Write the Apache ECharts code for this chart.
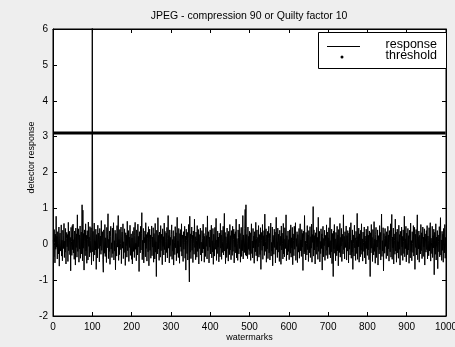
<!DOCTYPE html>
<html>
<head>
<meta charset="utf-8">
<script src="https://cdn.jsdelivr.net/npm/echarts@6/dist/echarts.min.js"></script>
<style>html,body{margin:0;padding:0;background:#eeeeee;}#c{width:455px;height:347px;}</style>
</head>
<body>
<div id="c"></div>
<script>
var titleText = 'JPEG - compression 90 or Quilty factor 10';
var xName = 'watermarks';
var yName = 'detector response';
var seriesNames = ['response', 'threshold'];
var xTicks = [0, 100, 200, 300, 400, 500, 600, 700, 800, 900, 1000];
var yTicks = [-2, -1, 0, 1, 2, 3, 4, 5, 6];
var thresholdValue = 3.1;
var response = [
0.12,-0.35,0.41,0.05,-0.52,0.28,-0.14,0.78,-0.08,0.22,-0.41,0.35,0.02,-0.27,0.48,-0.61,0.17,0.31,-0.19,0.06,0.54,-0.33,0.11,-0.46,0.39,0.24,-0.12,0.58,-0.37,0.09,-0.22,0.44,-0.55,0.16,0.33,-0.07,0.27,-0.48,0.61,-0.18,0.04,0.36,-0.29,0.19,-0.74,0.47,0.08,-0.31,0.52,-0.15,
0.56,-0.24,0.13,-0.42,0.37,0.21,-0.58,0.45,-0.09,0.29,-0.36,0.82,-0.2,0.1,0.43,-0.5,0.26,-0.13,0.51,-0.39,0.18,0.34,-0.27,1.1,-0.46,0.95,-0.11,0.3,-0.72,0.4,0.07,-0.32,0.57,-0.19,0.25,-0.53,0.38,0.14,-0.44,0.62,-0.06,0.2,-0.35,0.49,-0.23,0.11,0.46,-0.57,0.32,6.2,
-0.21,0.36,-0.47,0.15,0.59,-0.3,0.08,-0.16,0.42,-0.7,0.27,0.03,-0.38,0.53,-0.12,0.31,0.19,-0.49,0.44,-0.05,0.23,-0.28,0.66,-0.17,0.09,0.35,-0.43,-0.78,0.4,0.12,-0.25,0.55,-0.34,0.18,0.06,-0.51,0.47,-0.1,0.28,0.85,-0.4,0.14,-0.2,0.37,-0.56,0.22,0.5,-0.13,0.04,-0.37,
0.45,-0.26,0.17,0.6,-0.44,0.1,-0.19,0.39,-0.71,0.3,0.05,-0.33,0.52,-0.08,0.26,0.8,-0.45,0.13,-0.29,0.41,-0.15,0.02,0.48,-0.54,0.21,0.34,-0.11,0.57,-0.4,0.07,-0.23,0.43,0.16,-0.59,0.32,-0.04,0.25,-0.36,0.64,-0.18,0.1,0.38,-0.48,0.2,-0.09,0.53,-0.31,0.15,0.29,-0.42,
0.18,-0.55,0.36,0.09,-0.2,0.47,-0.37,0.24,0.61,-0.14,0.03,-0.46,0.4,0.13,-0.3,0.56,-0.07,0.22,-0.76,0.35,0.08,-0.24,0.5,-0.16,0.29,0.88,-0.43,0.11,-0.28,0.44,-0.52,0.19,0.04,0.37,-0.35,0.6,-0.12,0.27,-0.47,0.15,0.33,-0.21,0.49,-0.6,0.06,0.42,-0.17,0.26,-0.39,0.14,
0.51,-0.32,0.2,-0.08,0.46,-0.5,0.3,0.12,-0.41,0.58,-0.22,0.07,-0.9,0.39,0.17,-0.27,0.74,-0.13,0.25,-0.45,0.34,0.02,-0.36,0.52,-0.18,0.28,0.1,-0.57,0.43,-0.06,0.21,-0.3,0.59,-0.15,0.36,-0.49,0.08,0.31,-0.23,0.47,-0.38,0.16,0.8,-0.11,0.24,-0.52,0.4,-0.03,0.19,-0.34,
0.27,0.54,-0.42,0.13,-0.19,0.38,-0.58,0.22,0.06,-0.29,0.49,-0.1,0.32,-0.46,0.18,0.75,-0.25,0.09,-0.37,0.44,0.15,-0.53,0.3,-0.07,0.41,-0.2,0.57,-0.33,0.12,0.26,-0.48,0.35,-0.14,0.05,0.5,-0.39,0.23,-0.72,0.42,0.1,-0.26,0.33,-0.44,0.17,0.55,-0.31,-1.05,0.78,-0.22,0.29,
-0.4,0.14,0.48,-0.17,0.25,-0.51,0.37,0.03,-0.28,0.7,-0.09,0.21,-0.43,0.34,0.11,-0.36,0.52,-0.2,0.08,0.41,-0.55,0.27,-0.12,0.19,0.45,-0.3,0.06,-0.47,0.38,0.16,-0.24,0.56,-0.13,0.3,-0.5,0.22,0.09,-0.34,0.47,-0.06,0.24,-0.41,0.79,-0.18,0.13,0.35,-0.52,0.2,-0.08,0.4,
-0.27,0.15,0.53,-0.38,0.1,-0.21,0.44,-0.56,0.28,0.05,-0.33,0.47,-0.14,0.23,0.72,-0.45,0.12,-0.26,0.37,-0.08,0.2,-0.49,0.31,0.17,-0.35,0.58,-0.11,0.26,-0.42,0.39,0.07,-0.23,0.5,-0.3,0.14,0.86,-0.19,0.33,-0.54,0.21,0.04,-0.37,0.45,-0.12,0.28,-0.47,0.36,0.1,-0.29,0.55,
-0.16,0.24,-0.43,0.38,0.09,-0.31,0.5,-0.2,0.13,0.42,-0.52,0.29,-0.07,0.35,-0.24,0.7,-0.38,0.16,0.03,-0.45,0.4,0.19,-0.27,0.56,-0.12,0.3,-0.5,0.22,0.47,-0.34,0.11,-0.18,0.8,-0.41,0.26,0.05,-0.23,0.43,0.97,-0.3,1.1,-0.33,0.27,0.08,-0.4,0.48,-0.14,0.22,-0.29,0.36,
-0.18,0.32,-0.45,0.12,0.57,-0.26,0.09,-0.38,0.44,-0.1,0.23,-0.53,0.35,0.06,-0.21,0.61,-0.32,0.16,0.4,-0.47,0.19,-0.07,0.52,-0.36,0.27,0.02,-0.29,0.46,-0.7,0.33,0.11,-0.17,0.55,-0.42,0.24,-0.05,0.38,-0.31,0.84,-0.2,0.08,0.43,-0.5,0.26,-0.13,0.36,-0.4,0.15,0.5,-0.24,
0.3,-0.44,0.17,0.59,-0.33,0.05,-0.19,0.48,-0.6,0.25,0.12,-0.28,0.42,-0.09,0.34,-0.52,0.2,0.75,-0.15,0.07,-0.37,0.45,-0.22,0.28,0.1,-0.48,0.39,-0.04,0.22,-0.56,0.51,-0.16,0.31,0.03,-0.41,0.58,-0.27,0.14,-0.35,0.46,0.19,-0.12,0.82,-0.46,0.24,0.06,-0.3,0.37,-0.2,0.13,
-0.43,0.4,0.08,-0.25,0.54,-0.36,0.18,-0.1,0.47,-0.57,0.29,0.1,-0.32,0.5,-0.14,0.23,0.6,-0.45,0.16,-0.06,0.35,-0.51,0.27,0.04,-0.22,0.44,-0.39,0.2,0.57,-0.18,0.12,-0.34,0.41,-0.08,0.3,-0.73,0.37,0.15,-0.27,0.8,-0.21,0.09,-0.44,0.33,0.02,-0.3,0.52,-0.15,0.26,-0.48,
0.38,0.14,-0.24,0.49,-0.37,0.21,-0.11,0.56,-0.5,0.27,0.05,1.05,-0.33,0.4,-0.16,0.24,-0.55,0.32,0.11,-0.28,0.47,-0.07,0.19,-0.42,0.75,-0.2,0.13,0.36,-0.49,0.08,-0.26,0.43,-0.12,0.29,-0.72,0.22,0.5,-0.35,0.16,-0.04,0.39,-0.45,0.25,0.07,-0.31,0.54,-0.17,0.34,-0.4,0.18,
-0.08,0.46,-0.29,0.2,0.74,-0.38,0.1,-0.21,0.42,-0.54,0.3,0.04,-0.9,0.37,-0.13,0.55,-0.25,0.15,-0.46,0.33,0.09,-0.32,0.5,-0.18,0.26,-0.6,0.41,0.12,-0.23,0.58,-0.36,0.19,-0.05,0.44,-0.48,0.28,0.06,-0.27,0.82,-0.15,0.22,-0.41,0.35,-0.09,0.17,0.51,-0.44,0.24,-0.19,0.38,
0.07,-0.52,0.31,-0.14,0.47,-0.3,0.2,0.6,-0.39,0.11,-0.22,0.4,-0.7,0.26,0.02,-0.33,0.53,-0.1,0.18,-0.45,0.36,0.13,-0.26,0.86,-0.42,0.21,-0.07,0.45,-0.5,0.29,0.08,-0.35,0.39,-0.17,0.57,-0.28,0.15,-0.47,0.34,0.05,-0.2,0.48,-0.38,0.23,0.1,-0.55,0.42,-0.12,0.27,-0.31,
0.5,-0.16,0.25,-0.43,0.37,0.09,-0.9,0.32,-0.24,0.55,-0.11,0.19,-0.48,0.41,0.06,-0.3,0.63,-0.2,0.14,-0.53,0.28,0.47,-0.37,0.12,-0.08,0.4,-0.58,0.24,0.03,-0.27,0.52,-0.15,0.33,-0.44,0.21,0.84,-0.34,0.1,-0.19,0.46,-0.74,0.3,0.16,-0.25,0.44,-0.06,0.23,-0.4,0.35,0.09,
-0.32,0.5,-0.13,0.26,-0.47,0.38,0.04,-0.21,0.57,-0.36,0.17,0.83,-0.42,0.2,-0.1,0.45,-0.55,0.29,0.11,-0.28,0.7,-0.19,0.34,-0.5,0.13,0.42,-0.24,0.07,-0.39,0.53,-0.14,0.27,-0.58,0.36,0.19,-0.31,0.48,-0.07,0.22,-0.45,0.4,0.08,-0.26,0.78,-0.35,0.15,-0.12,0.5,-0.49,0.31,
0.05,-0.29,0.44,-0.16,0.24,-0.53,0.39,0.13,-0.38,0.59,-0.2,0.1,-0.46,0.35,0.02,-0.23,0.52,-0.33,0.18,0.47,-0.7,0.28,-0.09,0.41,-0.3,0.16,0.82,-0.43,0.21,-0.13,0.37,-0.5,0.25,0.06,-0.27,0.55,-0.18,0.32,-0.4,0.12,0.48,-0.34,0.2,-0.07,0.43,-0.58,0.29,0.09,-0.22,0.38,
-0.15,0.52,-0.41,0.23,0.11,-0.32,0.46,-0.19,0.3,0.6,-0.47,0.17,0.04,-0.26,0.5,-0.37,0.24,-0.1,0.42,-0.85,0.33,0.14,-0.28,0.57,-0.44,0.2,-0.06,0.38,-0.68,0.26,0.08,-0.21,0.49,-0.35,0.15,0.74,-0.3,0.12,-0.45,0.36,-0.17,0.28,-0.5,0.44,0.03,-0.24,0.55,-0.39,0.19,-0.11
];

var respData = response.map(function (v, i) { return [i + 1, v]; });
var thrData = response.map(function (v, i) { return [i + 1, thresholdValue]; });

var FONT = 'Liberation Sans';
var chart = echarts.init(document.getElementById('c'), null, {renderer: 'canvas'});
var axisCommon = {
  type: 'value',
  axisLine: {show: true, onZero: false, lineStyle: {color: '#000', width: 1}},
  axisTick: {show: true, inside: true, length: 4, lineStyle: {color: '#000'}},
  splitLine: {show: false}
};
function plain(v) { return String(v); }
chart.setOption({
  backgroundColor: '#eeeeee',
  animation: false,
  title: {
    text: titleText, left: 244, top: 6, textAlign: 'center',
    textStyle: {fontFamily: FONT, fontSize: 10.5, fontWeight: 'normal', color: '#000'}
  },
  grid: {left: 53, right: 9, top: 29, bottom: 31, show: true, backgroundColor: '#fff', borderColor: '#000', borderWidth: 1,
         containLabel: false, outerBoundsMode: 'none'},
  xAxis: [
    Object.assign({}, axisCommon, {
      min: xTicks[0], max: xTicks[xTicks.length - 1], interval: 100, position: 'bottom',
      name: xName, nameLocation: 'middle', nameGap: 17, nameMoveOverlap: false,
      nameTextStyle: {fontFamily: FONT, fontSize: 9, color: '#000'},
      axisLabel: {fontFamily: FONT, fontSize: 10, color: '#000', margin: 6, formatter: plain, hideOverlap: false}
    }),
    Object.assign({}, axisCommon, {
      min: xTicks[0], max: xTicks[xTicks.length - 1], interval: 100, position: 'top',
      axisLabel: {show: false}
    })
  ],
  yAxis: [
    Object.assign({}, axisCommon, {
      min: yTicks[0], max: yTicks[yTicks.length - 1], interval: 1, position: 'left',
      name: yName, nameLocation: 'middle', nameGap: 17, nameMoveOverlap: false,
      nameTextStyle: {fontFamily: FONT, fontSize: 9, color: '#000', padding: [0, 0, 0, 30]},
      axisLabel: {fontFamily: FONT, fontSize: 10, color: '#000', margin: 5, formatter: plain}
    }),
    Object.assign({}, axisCommon, {
      min: yTicks[0], max: yTicks[yTicks.length - 1], interval: 1, position: 'right',
      axisLabel: {show: false}
    })
  ],
  series: [
    {
      name: seriesNames[0], type: 'line', data: respData, showSymbol: false, symbol: 'none',
      lineStyle: {color: '#000', width: 1}, clip: true, z: 3
    },
    {
      name: seriesNames[1], type: 'line', data: thrData, showSymbol: false, symbol: 'none',
      lineStyle: {color: '#000', width: 3}, z: 4
    }
  ],
  graphic: [
    {type: 'rect', shape: {x: 318.5, y: 32.5, width: 128, height: 36}, style: {fill: '#fff', stroke: '#000', lineWidth: 1}, z: 10},
    {type: 'line', shape: {x1: 327, y1: 46.5, x2: 360, y2: 46.5}, style: {stroke: '#000', lineWidth: 1}, z: 11},
    {type: 'circle', shape: {cx: 342, cy: 57, r: 1.5}, style: {fill: '#000'}, z: 11},
    {type: 'text', x: 437, y: 45, style: {text: seriesNames[0], align: 'right', verticalAlign: 'middle', font: '12.5px "Liberation Sans"', fill: '#000'}, z: 11},
    {type: 'text', x: 437, y: 56, style: {text: seriesNames[1], align: 'right', verticalAlign: 'middle', font: '12.5px "Liberation Sans"', fill: '#000'}, z: 11}
  ]
});
</script>
</body>
</html>
